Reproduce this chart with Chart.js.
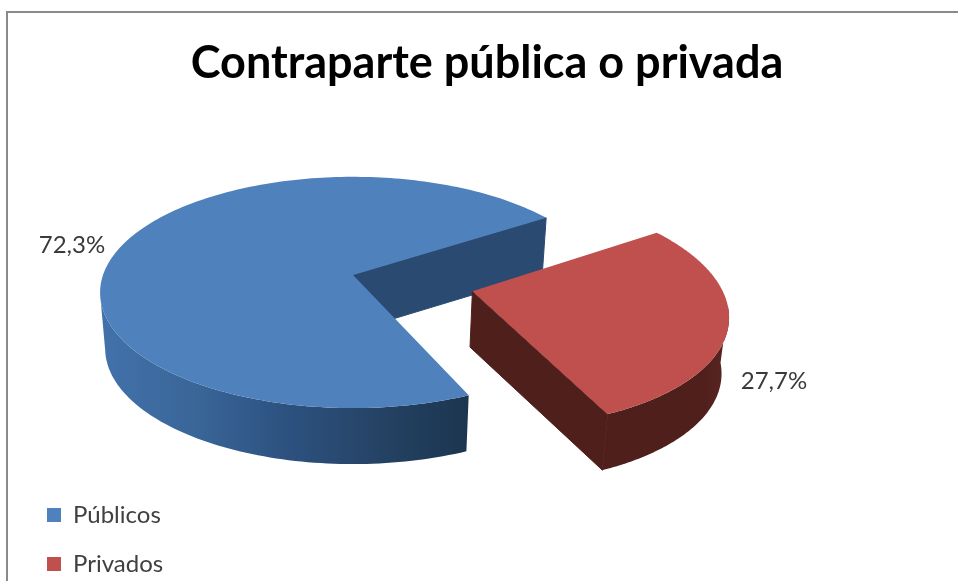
<!DOCTYPE html>
<html>
<head>
<meta charset="utf-8">
<title>Contraparte pública o privada</title>
<script src="https://cdn.jsdelivr.net/npm/chart.js@4/dist/chart.umd.min.js"></script>
<style>
  body { margin: 0; background: #fff; }
  canvas { display: block; }
</style>
</head>
<body>
<canvas id="myChart" width="958" height="581"></canvas>
<script>
const categories = ["Públicos", "Privados"];
const values = [72.3, 27.7];
const titleText = "Contraparte pública o privada";

const topColors = ["#4f81bd", "#c0504d"];
const faceColors = ["#2a4a72", "#4f1f1c"];
const rimStops = [
  ["#4272ab", "#3a6699", "#2d5280", "#254365", "#1c3550"],
  ["#4f1f1c", "#4f1f1c", "#4f1f1c", "#4f1f1c", "#5a2522"]
];
const labelSpots = [[72, 245], [774, 381]];
const sliceRadius = [250, 245];

// camera used to lay the pie flat, measured on the picture
const centerX = 353, centerY = 275, planeR = 250;
const tilt = 0.452, persp = 0.151, depth = 56, shrink = 0.98;

function project(px, py) {
  const d = 1 - persp * py / planeR;
  return [centerX + px / d, centerY + tilt * py / d];
}
function lower(p) {
  return [centerX + (p[0] - centerX) * shrink, p[1] + depth];
}
function fillPoly(ctx, pts, style, seam) {
  ctx.beginPath();
  pts.forEach((p, i) => i ? ctx.lineTo(p[0], p[1]) : ctx.moveTo(p[0], p[1]));
  ctx.closePath();
  ctx.fillStyle = style;
  ctx.fill();
  if (seam) {
    ctx.strokeStyle = style;
    ctx.lineWidth = 1;
    ctx.stroke();
  }
}

function drawSlice(ctx, arc, i) {
  const start = arc.startAngle, end = arc.endAngle;
  const mid = (start + end) / 2;
  const shift = arc.options.offset || 0;
  const ox = Math.cos(mid) * shift, oy = Math.sin(mid) * shift;
  const r = sliceRadius[i];
  const at = a => project(ox + r * Math.cos(a), oy + r * Math.sin(a));
  const apex = project(ox, oy);

  // wall starts where the outline turns round, not at the widest angle of the circle
  const rimFrom = persp - persp * oy / planeR;
  const outline = [], rim = [];
  for (let k = 0; k <= 200; k++) {
    const a = start + (end - start) * k / 200;
    const p = at(a);
    outline.push(p);
    if (Math.sin(a) > rimFrom) rim.push(p);
  }

  // cut faces, only the ones turned to the viewer
  if (-Math.cos(start) > 0) {
    const t = at(start);
    fillPoly(ctx, [apex, t, lower(t), lower(apex)], faceColors[i], true);
  }
  if (Math.cos(end) > 0) {
    const t = at(end);
    fillPoly(ctx, [apex, t, lower(t), lower(apex)], faceColors[i], true);
  }

  // outer wall
  const xs = rim.map(p => p[0]);
  const grad = ctx.createLinearGradient(Math.min(...xs), 0, Math.max(...xs), 0);
  rimStops[i].forEach((c, k) => grad.addColorStop(k / (rimStops[i].length - 1), c));
  fillPoly(ctx, rim.concat(rim.map(lower).reverse()), grad);

  // top
  fillPoly(ctx, [apex].concat(outline), arc.options.backgroundColor);
}

const pie3d = {
  id: "pie3d",
  beforeDraw(chart) {
    const ctx = chart.ctx;
    ctx.save();
    ctx.strokeStyle = "#8a8a8a";
    ctx.lineWidth = 2;
    ctx.beginPath();
    ctx.moveTo(7, 581);
    ctx.lineTo(7, 12);
    ctx.lineTo(958, 12);
    ctx.stroke();
    ctx.restore();
  },
  beforeDatasetDraw(chart, args) {
    const ctx = chart.ctx;
    ctx.save();
    args.meta.data.forEach((arc, i) => drawSlice(ctx, arc, i));
    ctx.font = "24px Lato";
    ctx.fillStyle = "#3a3a3a";
    ctx.textAlign = "center";
    ctx.textBaseline = "middle";
    values.forEach((v, i) => {
      ctx.fillText(v.toFixed(1).replace(".", ",") + "%", labelSpots[i][0], labelSpots[i][1]);
    });
    ctx.restore();
    return false;
  }
};

new Chart(document.getElementById("myChart").getContext("2d"), {
  type: "pie",
  data: {
    labels: categories,
    datasets: [{
      data: values,
      backgroundColor: topColors,
      borderWidth: 0,
      offset: [0, 122]
    }]
  },
  options: {
    responsive: false,
    animation: false,
    rotation: 156.5,
    layout: { padding: { left: 22, right: 6, bottom: -20, top: 36 } },
    plugins: {
      title: {
        display: true,
        text: titleText,
        color: "#000",
        font: { family: "Lato", weight: "bold", size: 45 },
        padding: 0
      },
      legend: {
        position: "left",
        align: "end",
        labels: {
          boxWidth: 14,
          boxHeight: 14,
          padding: 25,
          color: "#404040",
          font: { family: "Lato", size: 24 }
        }
      },
      tooltip: { enabled: false }
    }
  },
  plugins: [pie3d]
});
</script>
</body>
</html>
